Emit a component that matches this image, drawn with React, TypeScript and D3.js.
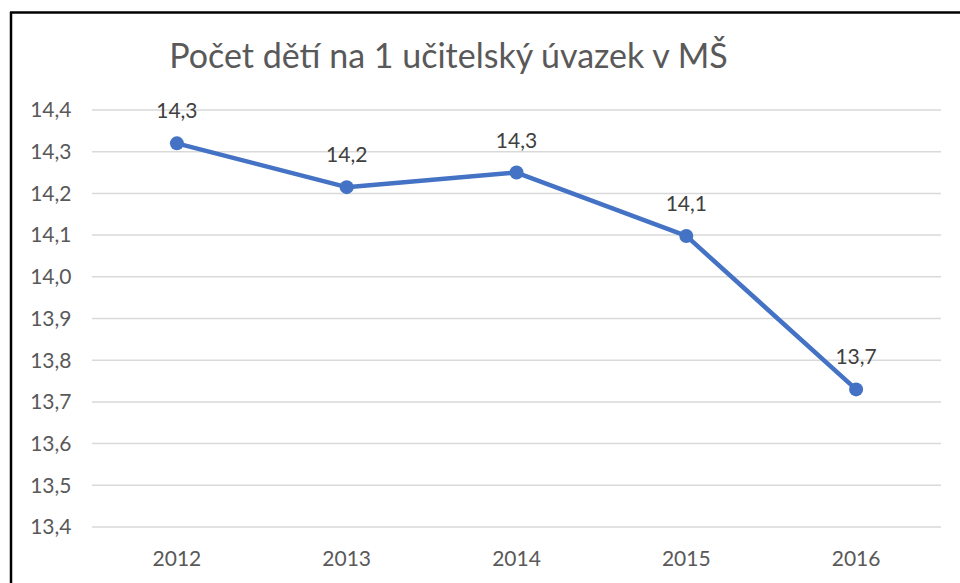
import React from 'react';
import * as d3 from 'd3';

const years = ['2012', '2013', '2014', '2015', '2016'];
const values = [14.32, 14.215, 14.25, 14.098, 13.73];
const valueLabels = ['14,3', '14,2', '14,3', '14,1', '13,7'];
const yTicks = [13.4, 13.5, 13.6, 13.7, 13.8, 13.9, 14.0, 14.1, 14.2, 14.3, 14.4];
const title = 'Počet dětí na 1 učitelský úvazek v MŠ';

const W = 960;
const H = 583;
const font = 'Lato, "Open Sans", sans-serif';

export default function App() {
  const x = d3.scaleBand<string>().domain(years).range([92, 941]);
  const y = d3.scaleLinear().domain([13.4, 14.4]).range([527, 110]);
  const fmt = (v: number) => v.toFixed(1).replace('.', ',');

  const line = d3
    .line<number>()
    .x((_, i) => x(years[i])! + x.bandwidth() / 2)
    .y((d) => y(d));

  return (
    <svg
      width={W}
      height={H}
      style={{ position: 'fixed', left: 0, top: 0, background: '#fff' }}
    >
      <rect x={0} y={0} width={W} height={H} fill="#fff" />
      {/* border (only top and left visible) */}
      <line x1={10} y1={12.5} x2={W} y2={12.5} stroke="#000" strokeWidth={2.5} />
      <line x1={11} y1={12} x2={11} y2={H} stroke="#000" strokeWidth={2.5} />

      <text
        x={448.5}
        y={68}
        textAnchor="middle"
        fontFamily={font}
        fontSize={34}
        fill="#595959"
      >
        {title}
      </text>

      {yTicks.map((t) => (
        <g key={t}>
          <line x1={92} x2={941} y1={y(t)} y2={y(t)} stroke="#d9d9d9" strokeWidth={1.5} />
          <text
            x={71.5}
            y={y(t)}
            dy="0.35em"
            textAnchor="end"
            fontFamily={font}
            fontSize={21}
            fill="#595959"
          >
            {fmt(t)}
          </text>
        </g>
      ))}

      {years.map((yr) => (
        <text
          key={yr}
          x={x(yr)! + x.bandwidth() / 2}
          y={566}
          textAnchor="middle"
          fontFamily={font}
          fontSize={21}
          fill="#595959"
        >
          {yr}
        </text>
      ))}

      <path d={line(values) ?? ''} fill="none" stroke="#4472c4" strokeWidth={4.5} strokeLinejoin="round" />

      {values.map((v, i) => {
        const cx = x(years[i])! + x.bandwidth() / 2;
        return (
          <g key={i}>
            <circle cx={cx} cy={y(v)} r={7} fill="#4472c4" />
            <text
              x={cx}
              y={y(v) - 25}
              textAnchor="middle"
              fontFamily={font}
              fontSize={21}
              fill="#404040"
            >
              {valueLabels[i]}
            </text>
          </g>
        );
      })}
    </svg>
  );
}
